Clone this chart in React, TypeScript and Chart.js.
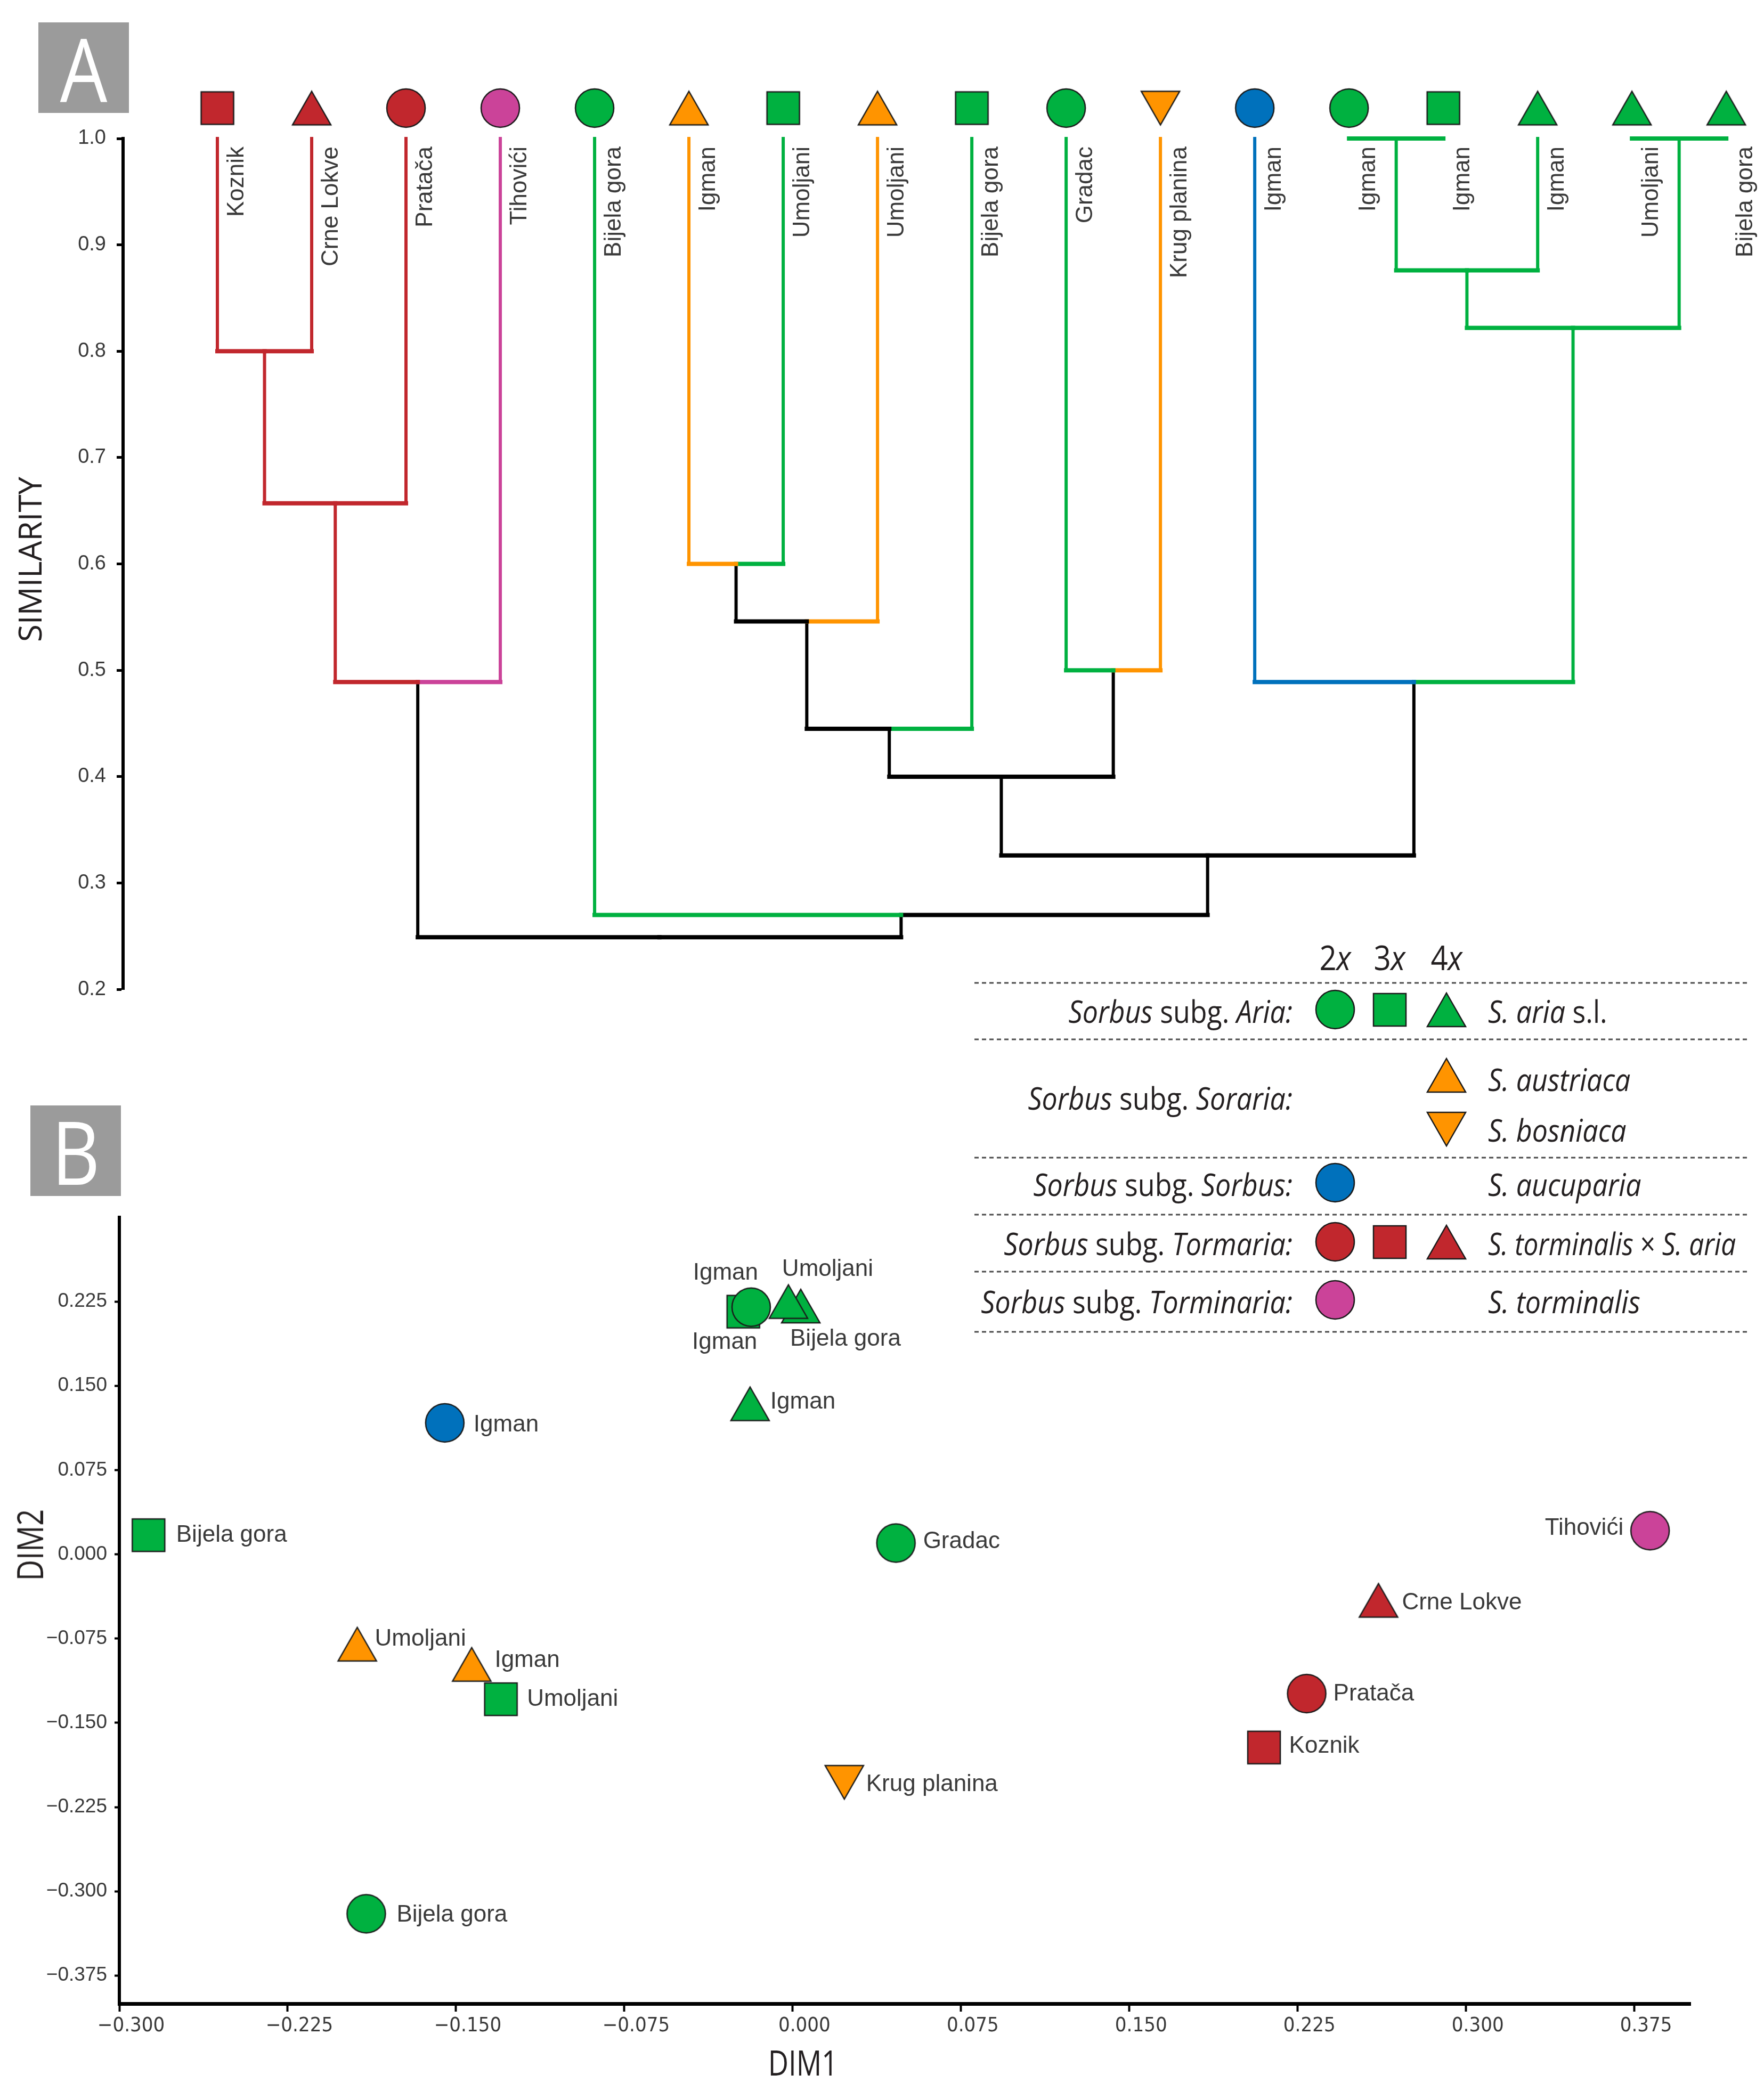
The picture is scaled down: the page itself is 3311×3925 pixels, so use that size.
import React, { useEffect, useRef } from 'react';
import { Chart, registerables } from 'chart.js';

Chart.register(...registerables);

// ---------------- Panel A : dendrogram (similarity) ----------------
const LEAF_NAMES = ['Koznik', 'Crne Lokve', 'Pratača', 'Tihovići', 'Bijela gora', 'Igman', 'Umoljani', 'Umoljani', 'Bijela gora', 'Gradac', 'Krug planina', 'Igman', 'Igman', 'Igman', 'Igman', 'Umoljani', 'Bijela gora'];
const LEAF_SHAPES = ['square', 'triangle', 'circle', 'circle', 'circle', 'triangle', 'square', 'triangle', 'square', 'circle', 'triangleDown', 'circle', 'circle', 'square', 'triangle', 'triangle', 'triangle'];
const LEAF_GROUPS = ['tormaria', 'tormaria', 'tormaria', 'torminaria', 'aria', 'soraria', 'aria', 'soraria', 'aria', 'aria', 'soraria', 'sorbus', 'aria', 'aria', 'aria', 'aria', 'aria'];
// merges: node ids 0..16 are leaves, merge k creates node 17+k
const MERGE_LEFT = [0, 17, 18, 5, 20, 21, 9, 22, 12, 25, 15, 26, 11, 24, 4, 19];
const MERGE_RIGHT = [1, 2, 3, 6, 7, 8, 10, 23, 13, 14, 16, 27, 28, 29, 30, 31];
const MERGE_HEIGHT = [0.8, 0.657, 0.489, 0.6, 0.546, 0.445, 0.5, 0.4, 1.0, 0.876, 1.0, 0.822, 0.489, 0.326, 0.27, 0.249];
const SIMILARITY_TICKS = [0.2, 0.3, 0.4, 0.5, 0.6, 0.7, 0.8, 0.9, 1.0];

// ---------------- Panel B : ordination (DIM1 / DIM2) ----------------
const PCO_NAMES = ['Bijela gora', 'Igman', 'Umoljani', 'Igman', 'Umoljani', 'Bijela gora', 'Krug planina', 'Gradac', 'Igman', 'Igman', 'Igman', 'Bijela gora', 'Umoljani', 'Tihovići', 'Crne Lokve', 'Pratača', 'Koznik'];
const PCO_SHAPES = ['square', 'circle', 'triangle', 'triangle', 'square', 'circle', 'triangleDown', 'circle', 'triangle', 'square', 'circle', 'triangle', 'triangle', 'circle', 'triangle', 'circle', 'square'];
const PCO_GROUPS = ['aria', 'sorbus', 'soraria', 'soraria', 'aria', 'aria', 'soraria', 'aria', 'aria', 'aria', 'aria', 'aria', 'aria', 'torminaria', 'tormaria', 'tormaria', 'tormaria'];
const PCO_DIM1 = [-0.287, -0.155, -0.194, -0.143, -0.130, -0.190, 0.023, 0.046, -0.019, -0.022, -0.0185, 0.0036, -0.0019, 0.382, 0.261, 0.229, 0.210];
const PCO_DIM2 = [0.017, 0.117, -0.080, -0.098, -0.129, -0.320, -0.203, 0.010, 0.134, 0.216, 0.220, 0.221, 0.225, 0.021, -0.041, -0.124, -0.172];
const PCO_LABEL_DX = [52, 54, 33, 43, 49, 57, 41, 51, 38, -35, -48, -20, -12, -50, 44, 50, 47];
const PCO_LABEL_DY = [0, 4, -9, -7, 0, 3, 4, -3, -3, 58, -64, 62, -60, -4, 5, 1, -2];
const PCO_LABEL_ALIGN = ['left', 'left', 'left', 'left', 'left', 'left', 'left', 'left', 'left', 'center', 'center', 'left', 'left', 'right', 'left', 'left', 'left'];
const DIM1_TICKS = [-0.3, -0.225, -0.15, -0.075, 0, 0.075, 0.15, 0.225, 0.3, 0.375];
const DIM2_TICKS = [0.225, 0.15, 0.075, 0, -0.075, -0.15, -0.225, -0.3, -0.375];

const GROUP_COLORS: Record<string, string> = {
  aria: '#00b140',
  soraria: '#ff9400',
  sorbus: '#0071bc',
  tormaria: '#c1272d',
  torminaria: '#cb4399',
};

const ARIAL = '"Liberation Sans", Arial, sans-serif';
const NARROW = '"Liberation Sans Narrow", "DejaVu Sans Condensed", "Liberation Sans", sans-serif';
const MYRIAD = '"Open Sans", sans-serif';
const LABEL_COLOR = '#3a3a3a';

function shapeSize(shape: string) {
  if (shape === 'circle') return { w: 72, h: 72 };
  if (shape === 'square') return { w: 61, h: 61 };
  return { w: 72, h: 63 };
}

function makeMarker(shape: string, fill: string) {
  const { w, h } = shapeSize(shape);
  const pad = 3;
  const c = document.createElement('canvas');
  c.width = w + 2 * pad;
  c.height = h + 2 * pad;
  const ctx = c.getContext('2d')!;
  ctx.fillStyle = fill;
  ctx.strokeStyle = '#1a1a1a';
  ctx.lineWidth = 2.5;
  ctx.lineJoin = 'miter';
  ctx.beginPath();
  if (shape === 'circle') {
    ctx.ellipse(pad + w / 2, pad + h / 2, w / 2, h / 2, 0, 0, Math.PI * 2);
  } else if (shape === 'square') {
    ctx.rect(pad, pad, w, h);
  } else if (shape === 'triangle') {
    ctx.moveTo(pad + w / 2, pad);
    ctx.lineTo(pad + w, pad + h);
    ctx.lineTo(pad, pad + h);
    ctx.closePath();
  } else {
    ctx.moveTo(pad, pad);
    ctx.lineTo(pad + w, pad);
    ctx.lineTo(pad + w / 2, pad + h);
    ctx.closePath();
  }
  ctx.fill();
  ctx.stroke();
  return c;
}

function buildDendrogramSegments() {
  const xs: number[] = LEAF_NAMES.map((_, i) => i);
  const hs: number[] = LEAF_NAMES.map(() => 1.0);
  const cols: string[] = LEAF_GROUPS.map((g) => GROUP_COLORS[g]);
  const segs: { pts: number[][]; color: string; w: number }[] = [];
  MERGE_LEFT.forEach((a, k) => {
    const b = MERGE_RIGHT[k];
    const h = MERGE_HEIGHT[k];
    const xm = (xs[a] + xs[b]) / 2;
    if (hs[a] !== h) segs.push({ pts: [[xs[a], hs[a]], [xs[a], h]], color: cols[a], w: 6 });
    if (hs[b] !== h) segs.push({ pts: [[xs[b], hs[b]], [xs[b], h]], color: cols[b], w: 6 });
    segs.push({ pts: [[xs[a], h], [xm, h]], color: cols[a], w: 8 });
    segs.push({ pts: [[xm, h], [xs[b], h]], color: cols[b], w: 8 });
    xs.push(xm);
    hs.push(h);
    cols.push(cols[a] === cols[b] ? cols[a] : '#000000');
  });
  return segs;
}

const fmt3 = (v: number) => {
  const s = Math.abs(v).toFixed(3);
  return v < -1e-9 ? '\u2212' + s : s;
};

function Txt(props: any) {
  const { x, y, align = 'left', size, family = MYRIAD, color = '#231f20', children, style, sx = 1, rot = 0 } = props;
  const tx = align === 'left' ? '0' : align === 'right' ? '-100%' : '-50%';
  const origin = align === 'left' ? 'left center' : align === 'right' ? 'right center' : 'center center';
  return (
    <div
      style={{
        position: 'absolute',
        left: x,
        top: y,
        transform: `translate(${tx}, -50%) rotate(${rot}deg) scaleX(${sx})`,
        transformOrigin: origin,
        fontSize: size,
        fontFamily: family,
        lineHeight: 1,
        whiteSpace: 'nowrap',
        color,
        ...style,
      }}
    >
      {children}
    </div>
  );
}

function Marker({ shape, group, cx, cy }: any) {
  const { w, h } = shapeSize(shape);
  const pad = 3;
  const fill = GROUP_COLORS[group];
  let el: any;
  if (shape === 'circle') el = <ellipse cx={pad + w / 2} cy={pad + h / 2} rx={w / 2} ry={h / 2} fill={fill} stroke="#1a1a1a" strokeWidth={2.5} />;
  else if (shape === 'square') el = <rect x={pad} y={pad} width={w} height={h} fill={fill} stroke="#1a1a1a" strokeWidth={2.5} />;
  else if (shape === 'triangle') el = <polygon points={`${pad + w / 2},${pad} ${pad + w},${pad + h} ${pad},${pad + h}`} fill={fill} stroke="#1a1a1a" strokeWidth={2.5} />;
  else el = <polygon points={`${pad},${pad} ${pad + w},${pad} ${pad + w / 2},${pad + h}`} fill={fill} stroke="#1a1a1a" strokeWidth={2.5} />;
  return (
    <svg style={{ position: 'absolute', left: cx - w / 2 - pad, top: cy - h / 2 - pad }} width={w + 2 * pad} height={h + 2 * pad}>
      {el}
    </svg>
  );
}

const LEG_COLS = [2506, 2608, 2715];
const LEG_LINES = [1845, 1951, 2173, 2280, 2387, 2500];
const LEG_LEFT_X = 2426;
const LEG_RIGHT_X = 2793;
const LEG_SIZE = 59;
const LEG_SX = 0.88;

function Legend() {
  return (
    <>
      <svg style={{ position: 'absolute', left: 0, top: 0 }} width={3311} height={2600}>
        {LEG_LINES.map((y) => (
          <line key={y} x1={1829} x2={3284} y1={y} y2={y} stroke="#4d4d4d" strokeWidth={3} strokeDasharray="8 6" />
        ))}
      </svg>
      <Txt x={LEG_COLS[0]} y={1797} align="center" size={64} sx={LEG_SX}>2<i>x</i></Txt>
      <Txt x={LEG_COLS[1]} y={1797} align="center" size={64} sx={LEG_SX}>3<i>x</i></Txt>
      <Txt x={LEG_COLS[2]} y={1797} align="center" size={64} sx={LEG_SX}>4<i>x</i></Txt>

      <Txt x={LEG_LEFT_X} y={1897} align="right" size={LEG_SIZE} sx={LEG_SX}><i>Sorbus</i> subg. <i>Aria:</i></Txt>
      <Marker shape="circle" group="aria" cx={LEG_COLS[0]} cy={1895} />
      <Marker shape="square" group="aria" cx={LEG_COLS[1]} cy={1895} />
      <Marker shape="triangle" group="aria" cx={LEG_COLS[2]} cy={1895} />
      <Txt x={LEG_RIGHT_X} y={1897} size={LEG_SIZE} sx={LEG_SX}><i>S. aria</i> s.l.</Txt>

      <Txt x={LEG_LEFT_X} y={2060} align="right" size={LEG_SIZE} sx={LEG_SX}><i>Sorbus</i> subg. <i>Soraria:</i></Txt>
      <Marker shape="triangle" group="soraria" cx={LEG_COLS[2]} cy={2018} />
      <Txt x={LEG_RIGHT_X} y={2025} size={LEG_SIZE} sx={LEG_SX}><i>S. austriaca</i></Txt>
      <Marker shape="triangleDown" group="soraria" cx={LEG_COLS[2]} cy={2119} />
      <Txt x={LEG_RIGHT_X} y={2120} size={LEG_SIZE} sx={LEG_SX}><i>S. bosniaca</i></Txt>

      <Txt x={LEG_LEFT_X} y={2222} align="right" size={LEG_SIZE} sx={LEG_SX}><i>Sorbus</i> subg. <i>Sorbus:</i></Txt>
      <Marker shape="circle" group="sorbus" cx={LEG_COLS[0]} cy={2220} />
      <Txt x={LEG_RIGHT_X} y={2222} size={LEG_SIZE} sx={LEG_SX}><i>S. aucuparia</i></Txt>

      <Txt x={LEG_LEFT_X} y={2333} align="right" size={LEG_SIZE} sx={LEG_SX}><i>Sorbus</i> subg. <i>Tormaria:</i></Txt>
      <Marker shape="circle" group="tormaria" cx={LEG_COLS[0]} cy={2331} />
      <Marker shape="square" group="tormaria" cx={LEG_COLS[1]} cy={2331} />
      <Marker shape="triangle" group="tormaria" cx={LEG_COLS[2]} cy={2331} />
      <Txt x={LEG_RIGHT_X} y={2333} size={LEG_SIZE} sx={0.84}><i>S. torminalis</i> × <i>S. aria</i></Txt>

      <Txt x={LEG_LEFT_X} y={2442} align="right" size={LEG_SIZE} sx={LEG_SX}><i>Sorbus</i> subg. <i>Torminaria:</i></Txt>
      <Marker shape="circle" group="torminaria" cx={LEG_COLS[0]} cy={2440} />
      <Txt x={LEG_RIGHT_X} y={2442} size={LEG_SIZE} sx={LEG_SX}><i>S. torminalis</i></Txt>
    </>
  );
}

function PanelTag({ letter, x, y }: any) {
  return (
    <div
      style={{
        position: 'absolute',
        left: x,
        top: y,
        width: 170,
        height: 170,
        background: '#9b9b9b',
        color: '#ffffff',
        fontFamily: MYRIAD,
        fontSize: 165,
        lineHeight: '170px',
        textAlign: 'center',
      }}
    >
      <span style={{ display: 'inline-block', transform: 'scaleX(0.85)' }}>{letter}</span>
    </div>
  );
}

export default function App() {
  const refA = useRef<HTMLCanvasElement>(null);
  const refB = useRef<HTMLCanvasElement>(null);

  useEffect(() => {
    const segs = buildDendrogramSegments();
    const leafMarkers = LEAF_SHAPES.map((s, i) => makeMarker(s, GROUP_COLORS[LEAF_GROUPS[i]]));
    const MARKER_Y = 1.0286;

    const dendroDatasets: any[] = segs.map((s) => ({
      data: s.pts.map(([x, y]) => ({ x, y })),
      showLine: true,
      borderColor: s.color,
      backgroundColor: s.color,
      borderWidth: s.w,
      borderCapStyle: 'square',
      pointRadius: 0,
      pointHoverRadius: 0,
      clip: false,
    }));
    dendroDatasets.push({
      data: LEAF_NAMES.map((_, i) => ({ x: i, y: MARKER_Y })),
      showLine: false,
      pointStyle: (ctx: any) => leafMarkers[ctx.dataIndex],
      pointRadius: 62,
      pointBorderWidth: 0,
      clip: false,
    });

    const leafLabelPlugin = {
      id: 'leafLabels',
      afterDatasetsDraw(chart: any) {
        const ctx = chart.ctx;
        const xs = chart.scales.x;
        const ys = chart.scales.y;
        const top = ys.getPixelForValue(1.0) + 15;
        ctx.save();
        ctx.font = `44px ${ARIAL}`;
        ctx.fillStyle = LABEL_COLOR;
        ctx.textAlign = 'right';
        ctx.textBaseline = 'middle';
        LEAF_NAMES.forEach((name, i) => {
          ctx.save();
          ctx.translate(xs.getPixelForValue(i) + 37, top);
          ctx.rotate(-Math.PI / 2);
          ctx.fillText(name, 0, 0);
          ctx.restore();
        });
        ctx.restore();
      },
    };

    const chartA = new Chart(refA.current!, {
      type: 'scatter',
      data: { datasets: dendroDatasets },
      options: {
        animation: false,
        responsive: false,
        events: [],
        layout: { autoPadding: false, padding: { top: 260, bottom: 30, left: 0, right: 0 } },
        plugins: { legend: { display: false }, tooltip: { enabled: false } },
        scales: {
          x: { type: 'linear', min: -1, max: 16.4, display: false },
          y: {
            type: 'linear',
            min: 0.2,
            max: 1.0,
            afterFit: (s: any) => { s.width = 231; },
            afterBuildTicks: (s: any) => { s.ticks = SIMILARITY_TICKS.map((v) => ({ value: v })); },
            grid: { drawOnChartArea: false, drawTicks: true, tickLength: 12, tickWidth: 5, tickColor: '#000' },
            border: { display: true, color: '#000', width: 6 },
            ticks: {
              padding: 20,
              color: LABEL_COLOR,
              font: { family: ARIAL, size: 38 },
              autoSkip: false,
              callback: (v: any) => Number(v).toFixed(1),
            },
          },
        },
      } as any,
      plugins: [leafLabelPlugin],
    });

    const pcoMarkers = PCO_SHAPES.map((s, i) => makeMarker(s, GROUP_COLORS[PCO_GROUPS[i]]));
    const pcoLabelPlugin = {
      id: 'pcoLabels',
      afterDatasetsDraw(chart: any) {
        const ctx = chart.ctx;
        const meta = chart.getDatasetMeta(0);
        ctx.save();
        ctx.font = `44px ${ARIAL}`;
        ctx.fillStyle = LABEL_COLOR;
        ctx.textBaseline = 'middle';
        meta.data.forEach((pt: any, i: number) => {
          ctx.textAlign = PCO_LABEL_ALIGN[i];
          ctx.fillText(PCO_NAMES[i], pt.x + PCO_LABEL_DX[i], pt.y + PCO_LABEL_DY[i]);
        });
        ctx.restore();
      },
    };

    const chartB = new Chart(refB.current!, {
      type: 'scatter',
      data: {
        datasets: [
          {
            data: PCO_DIM1.map((x, i) => ({ x, y: PCO_DIM2[i] })),
            pointStyle: (ctx: any) => pcoMarkers[ctx.dataIndex],
            pointRadius: 36,
            pointBorderWidth: 0,
            clip: false,
          } as any,
        ],
      },
      options: {
        animation: false,
        responsive: false,
        events: [],
        layout: { autoPadding: false, padding: { top: 385, right: 138, left: 0, bottom: 0 } },
        plugins: { legend: { display: false }, tooltip: { enabled: false } },
        scales: {
          x: {
            type: 'linear',
            min: -0.3,
            max: 0.4,
            afterFit: (s: any) => { s.height = 164; },
            afterBuildTicks: (s: any) => { s.ticks = DIM1_TICKS.map((v) => ({ value: v })); },
            grid: { drawOnChartArea: false, drawTicks: true, tickLength: 15, tickWidth: 4, tickColor: '#000' },
            border: { display: true, color: '#000', width: 7 },
            ticks: {
              padding: 4,
              labelOffset: 22,
              maxRotation: 0,
              autoSkip: false,
              color: LABEL_COLOR,
              font: { family: NARROW, size: 38 },
              callback: (v: any) => fmt3(Number(v)),
            },
          },
          y: {
            type: 'linear',
            min: -0.4,
            max: 0.3,
            afterFit: (s: any) => { s.width = 224; },
            afterBuildTicks: (s: any) => { s.ticks = DIM2_TICKS.map((v) => ({ value: v })); },
            grid: { drawOnChartArea: false, drawTicks: true, tickLength: 9, tickWidth: 4, tickColor: '#000' },
            border: { display: true, color: '#000', width: 6 },
            ticks: {
              padding: 14,
              autoSkip: false,
              color: LABEL_COLOR,
              font: { family: ARIAL, size: 37 },
              callback: (v: any) => fmt3(Number(v)),
            },
          },
        },
      } as any,
      plugins: [pcoLabelPlugin],
    });

    return () => {
      chartA.destroy();
      chartB.destroy();
    };
  }, []);

  return (
    <div style={{ position: 'absolute', left: 0, top: 0, width: 3311, height: 3925, background: '#ffffff', overflow: 'hidden' }}>
      <canvas ref={refA} width={3311} height={1900} style={{ position: 'absolute', left: 0, top: 0 }} />
      <canvas ref={refB} width={3311} height={2025} style={{ position: 'absolute', left: 0, top: 1900 }} />
      <PanelTag letter="A" x={72} y={42} />
      <PanelTag letter="B" x={57} y={2075} />
      <Txt x={55} y={1050} align="center" size={60} family={MYRIAD} rot={-90}>SIMILARITY</Txt>
      <Txt x={55} y={2900} align="center" size={68} family={MYRIAD} rot={-90} sx={0.8}>DIM2</Txt>
      <Txt x={1507} y={3870} align="center" size={66} family={MYRIAD} sx={0.8}>DIM1</Txt>
      <Legend />
    </div>
  );
}
